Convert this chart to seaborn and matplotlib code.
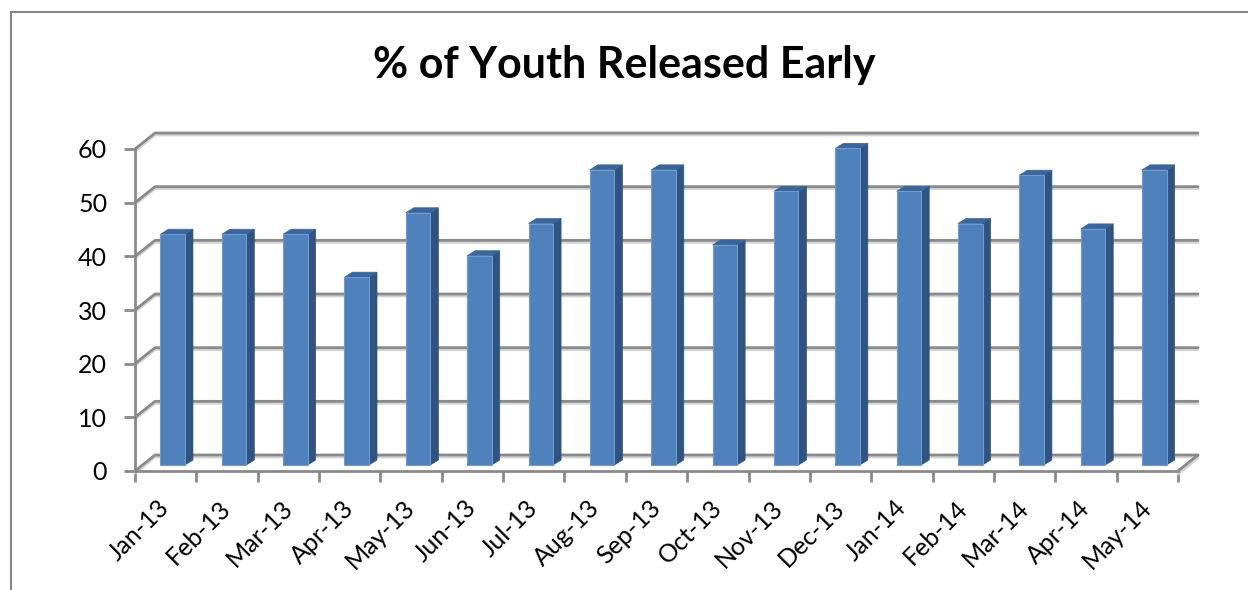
import numpy as np
import pandas as pd
import matplotlib
matplotlib.use("Agg")
import matplotlib.pyplot as plt
import matplotlib.transforms as mtransforms
from matplotlib.patches import Polygon, Rectangle
from matplotlib.lines import Line2D
import seaborn as sns

# data
months = ["Jan-13", "Feb-13", "Mar-13", "Apr-13", "May-13", "Jun-13", "Jul-13",
          "Aug-13", "Sep-13", "Oct-13", "Nov-13", "Dec-13", "Jan-14", "Feb-14",
          "Mar-14", "Apr-14", "May-14"]
pct_released = [43, 43, 43, 35, 47, 39, 45, 55, 55, 41, 51, 59, 51, 45, 54, 44, 55]
y_ticks = [0, 10, 20, 30, 40, 50, 60]

sns.set_theme(style="white")
plt.rcParams["font.family"] = ["Lato", "DejaVu Sans"]

W, H = 1248, 590
grid_c = "#8a8a8a"
shadow_c = "#d4d4d4"
front_c = "#4f81bd"
side_c = "#30537f"
top_c = "#3a669c"

# fake 3d depth, in pixels (right, up)
wall = np.array([20, 16])
bar_front = np.array([7, 6])
bar_back = np.array([15, 11])

fig = plt.figure(figsize=(W / 100, H / 100), dpi=100)
ax = fig.add_axes([135 / W, 1 - 471 / H, 1043 / W, (471 - 149) / H])

df = pd.DataFrame({"month": months, "pct": pct_released})
sns.barplot(data=df, x="month", y="pct", color=front_c, saturation=1, width=0.4,
            errorbar=None, ax=ax, zorder=3, edgecolor="#6f9bd0", linewidth=0.8)
ax.set_xlim(-0.5, len(months) - 0.5)
ax.set_ylim(0, 60)
ax.set_yticks(y_ticks)
ax.set_xlabel("")
ax.set_ylabel("")
ax.patch.set_alpha(0)

disp = ax.transData.transform
ident = mtransforms.IdentityTransform()
x_lo, x_hi = ax.get_xlim()

# back wall gridlines + left wall diagonals
for t in y_ticks:
    f0 = disp((x_lo, t))
    b0 = f0 + wall
    b1 = disp((x_hi, t)) + wall
    xs = [f0[0], b0[0], b1[0]]
    ys = [f0[1], b0[1], b1[1]]
    ax.add_line(Line2D(xs, [v - 2 for v in ys], transform=ident, color=shadow_c,
                       lw=2, zorder=1, clip_on=False))
    ax.add_line(Line2D(xs, ys, transform=ident, color=grid_c, lw=2,
                       zorder=1.5, clip_on=False))

# floor right edge
f1 = disp((x_hi, 0))
b1 = f1 + wall
ax.add_line(Line2D([f1[0], b1[0]], [f1[1], b1[1]], transform=ident, color=grid_c,
                   lw=2, zorder=1.5, clip_on=False))
ax.add_line(Line2D([f1[0], b1[0]], [f1[1] - 3, b1[1] - 3], transform=ident,
                   color=shadow_c, lw=2, zorder=1, clip_on=False))

# 3d faces of the bars
shift = mtransforms.ScaledTranslation(bar_front[0] / 100, bar_front[1] / 100,
                                      fig.dpi_scale_trans)
depth = bar_back - bar_front
for p in list(ax.patches):
    x0, w, h = p.get_x(), p.get_width(), p.get_height()
    tl = disp((x0, h)) + bar_front
    tr = disp((x0 + w, h)) + bar_front
    br = disp((x0 + w, 0)) + bar_front
    ax.add_patch(Polygon([br, tr, tr + depth, br + depth], closed=True,
                         transform=ident, fc=side_c, ec=side_c, lw=0.5,
                         zorder=2.5, clip_on=False))
    ax.add_patch(Polygon([tl, tr, tr + depth, tl + depth], closed=True,
                         transform=ident, fc=top_c, ec=top_c, lw=0.5,
                         zorder=2.5, clip_on=False))
    p.set_transform(ax.transData + shift)
    p.set_clip_on(False)

# axes lines and ticks
sns.despine(ax=ax, top=True, right=True)
for s in ["left", "bottom"]:
    ax.spines[s].set_color(grid_c)
    ax.spines[s].set_linewidth(2)
    ax.spines[s].set_zorder(4)

ax.tick_params(axis="y", left=True, length=8, width=2, color=grid_c,
               labelsize=18, labelcolor="black", pad=12)
ax.set_xticks(np.arange(len(months) + 1) - 0.5, minor=True)
ax.tick_params(axis="x", which="minor", bottom=True, length=8, width=2, color=grid_c)
ax.tick_params(axis="x", which="major", bottom=True, length=0, labelsize=18,
               labelcolor="black", pad=18)
label_shift = mtransforms.ScaledTranslation(-8 / 100, 0, fig.dpi_scale_trans)
for lab in ax.get_xticklabels():
    lab.set_rotation(45)
    lab.set_ha("right")
    lab.set_va("top")
    lab.set_rotation_mode("anchor")
    lab.set_transform(lab.get_transform() + label_shift)

fig.text(0.5, 1 - 65 / H, "% of Youth Released Early", ha="center", va="center",
         fontsize=31, fontweight="bold", color="black")

# outer chart border
fig.add_artist(Rectangle((11 / W, -0.05), 1.1, (H - 12) / H + 0.05,
                         transform=fig.transFigure, fill=False, ec="#868686",
                         lw=1.5, clip_on=False))

fig.savefig("out.png", dpi=100)
